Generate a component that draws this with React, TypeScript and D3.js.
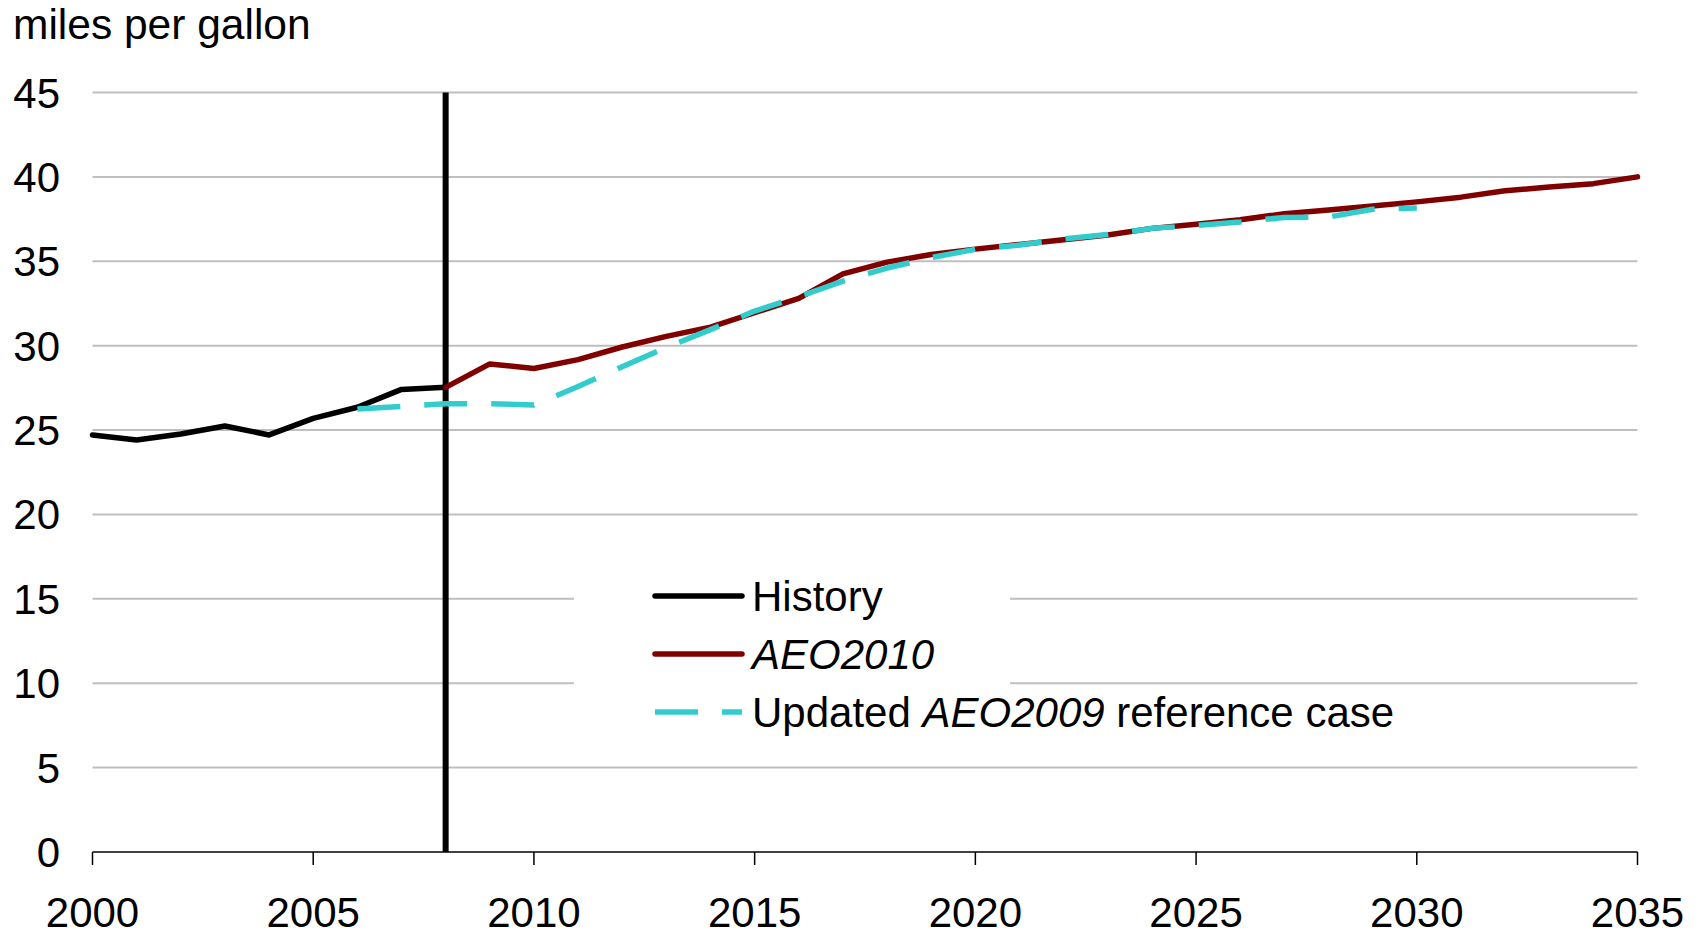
import React from "react";
import * as d3 from "d3";

const historyYears = [2000, 2001, 2002, 2003, 2004, 2005, 2006, 2007, 2008];
const historyMpg = [24.71, 24.41, 24.77, 25.24, 24.71, 25.69, 26.35, 27.41, 27.53];

const aeo2010Years = [2008, 2009, 2010, 2011, 2012, 2013, 2014, 2015, 2016, 2017, 2018, 2019, 2020, 2021, 2022, 2023, 2024, 2025, 2026, 2027, 2028, 2029, 2030, 2031, 2032, 2033, 2034, 2035];
const aeo2010Mpg = [27.53, 28.92, 28.65, 29.17, 29.92, 30.55, 31.1, 31.95, 32.8, 34.25, 34.95, 35.4, 35.72, 36.0, 36.28, 36.56, 36.95, 37.19, 37.46, 37.82, 38.04, 38.27, 38.52, 38.8, 39.18, 39.4, 39.6, 40.0];

const aeo2009Years = [2006, 2007, 2008, 2009, 2010, 2011, 2012, 2013, 2014, 2015, 2016, 2017, 2018, 2019, 2020, 2021, 2022, 2023, 2024, 2025, 2026, 2027, 2028, 2029, 2030];
const aeo2009Mpg = [26.25, 26.4, 26.56, 26.56, 26.48, 27.58, 28.75, 29.9, 30.95, 32.05, 32.9, 33.82, 34.6, 35.22, 35.71, 35.96, 36.32, 36.58, 36.95, 37.12, 37.33, 37.6, 37.62, 38.08, 38.15];

const xTicks = [2000, 2005, 2010, 2015, 2020, 2025, 2030, 2035];
const yTicks = [0, 5, 10, 15, 20, 25, 30, 35, 40, 45];
const historyEndYear = 2008;

const FONT = "'Liberation Sans', Arial, sans-serif";

export default function App() {
  const W = 1706, H = 936;
  const left = 92.5, right = 1637.5, top = 92.5, bottom = 852;
  const x = d3.scaleLinear().domain([2000, 2035]).range([left, right]);
  const y = d3.scaleLinear().domain([0, 45]).range([bottom, top]);
  const line = d3.line<[number, number]>().x(d => x(d[0])).y(d => y(d[1]));
  const hist = line(historyYears.map((yr, i) => [yr, historyMpg[i]]));
  const a10 = line(aeo2010Years.map((yr, i) => [yr, aeo2010Mpg[i]]));
  const a09 = line(aeo2009Years.map((yr, i) => [yr, aeo2009Mpg[i]]));

  const legX1 = 655, legX2 = 742, legTx = 752;
  const legY = [596, 654, 712];

  return (
    <div style={{ position: "absolute", left: 0, top: 0 }}>
      <svg width={W} height={H} style={{ display: "block", background: "#fff" }}>
        <text x={13} y={39} fontFamily={FONT} fontSize={42.5} fill="#000">miles per gallon</text>
        {yTicks.filter(t => t > 0).map(t => (
          <line key={t} x1={left} x2={right} y1={y(t)} y2={y(t)} stroke="#bfbfbf" strokeWidth={2} />
        ))}
        {yTicks.map(t => (
          <text key={t} x={60} y={y(t) + 15} textAnchor="end" fontFamily={FONT} fontSize={42} fill="#000">{t}</text>
        ))}
        <rect x={574} y={545} width={436} height={195} fill="#fff" />
        <line x1={left} x2={right} y1={bottom} y2={bottom} stroke="#000" strokeWidth={1.5} />
        {xTicks.map(t => (
          <g key={t}>
            <line x1={x(t)} x2={x(t)} y1={bottom} y2={bottom + 13} stroke="#000" strokeWidth={1.5} />
            <text x={x(t)} y={927} textAnchor="middle" fontFamily={FONT} fontSize={42} fill="#000">{t}</text>
          </g>
        ))}
        <line x1={x(historyEndYear)} x2={x(historyEndYear)} y1={y(45)} y2={bottom} stroke="#000" strokeWidth={6} />
        <path d={hist || ""} fill="none" stroke="#000" strokeWidth={5.5} strokeLinejoin="round" strokeLinecap="round" />
        <path d={a10 || ""} fill="none" stroke="#800000" strokeWidth={5.5} strokeLinejoin="round" strokeLinecap="round" />
        <path d={a09 || ""} fill="none" stroke="#33cccc" strokeWidth={5.5} strokeDasharray="43 24" strokeLinejoin="round" />

        <line x1={legX1} x2={legX2} y1={legY[0]} y2={legY[0]} stroke="#000" strokeWidth={5.5} strokeLinecap="round" />
        <text x={legTx} y={legY[0] + 15} fontFamily={FONT} fontSize={42} fill="#000">History</text>
        <line x1={legX1} x2={legX2} y1={legY[1]} y2={legY[1]} stroke="#800000" strokeWidth={5.5} strokeLinecap="round" />
        <text x={legTx} y={legY[1] + 15} fontFamily={FONT} fontSize={42} fill="#000" fontStyle="italic">AEO2010</text>
        <line x1={legX1} x2={legX2} y1={legY[2]} y2={legY[2]} stroke="#33cccc" strokeWidth={5.5} strokeDasharray="43 24" />
        <text x={legTx} y={legY[2] + 15} fontFamily={FONT} fontSize={42} fill="#000">
          Updated <tspan fontStyle="italic">AEO2009</tspan> reference case
        </text>
      </svg>
    </div>
  );
}
